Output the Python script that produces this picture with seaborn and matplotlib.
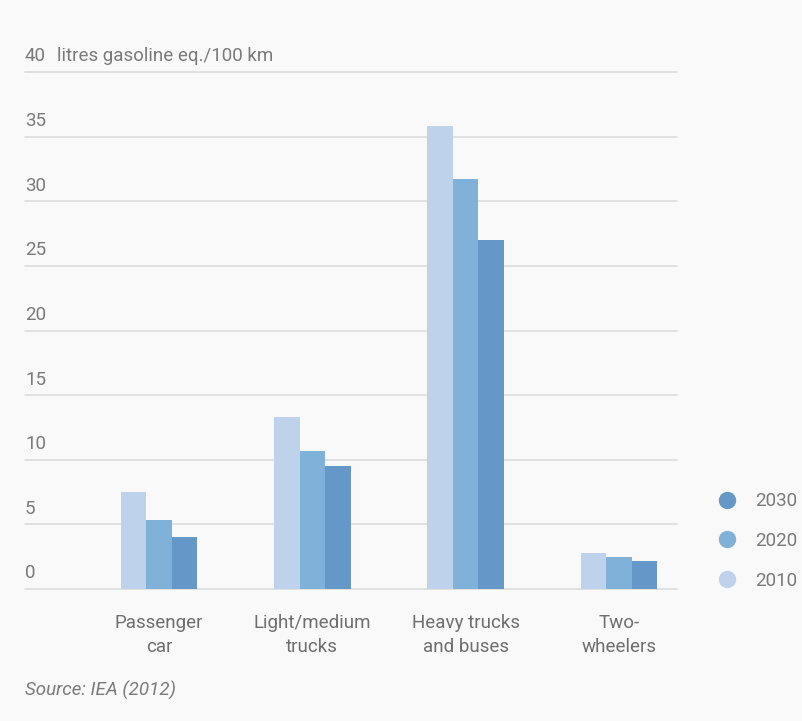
import matplotlib
matplotlib.use("Agg")
import matplotlib.pyplot as plt
from matplotlib.lines import Line2D
import seaborn as sns
import pandas as pd

categories = ["Passenger\ncar", "Light/medium\ntrucks", "Heavy trucks\nand buses", "Two-\nwheelers"]
years = ["2010", "2020", "2030"]
values_2010 = [7.5, 13.3, 35.8, 2.8]
values_2020 = [5.3, 10.7, 31.7, 2.5]
values_2030 = [4.0, 9.5, 27.0, 2.2]
y_ticks = [0, 5, 10, 15, 20, 25, 30, 35, 40]
unit_label = "litres gasoline eq./100 km"
source_note = "Source: IEA (2012)"

colors = ["#bed2ec", "#80b2d9", "#6597c9"]

rows = []
for yr, vals in zip(years, [values_2010, values_2020, values_2030]):
    for cat, v in zip(categories, vals):
        rows.append({"category": cat, "year": yr, "value": v})
df = pd.DataFrame(rows)

sns.set_style("white")
plt.rcParams["font.family"] = ["Roboto", "DejaVu Sans"]

bg = "#f9f9f9"
text_col = "#7a7a7a"
fig = plt.figure(figsize=(8.03, 7.21), dpi=100, facecolor=bg)
W, H = 803, 721
ax = fig.add_axes([25 / W, (H - 589) / H, (677 - 25) / W, (589 - 72) / H])
ax.set_facecolor(bg)

sns.barplot(data=df, x="category", y="value", hue="year", hue_order=years,
            palette=colors, width=0.5, saturation=1, ax=ax, legend=False,
            linewidth=0, zorder=3)

ax.set_ylim(0, 40)
ax.set_xlim(-0.874, 3.379)
for s in ax.spines.values():
    s.set_visible(False)
ax.set_yticks(y_ticks)
ax.set_yticklabels([])
ax.tick_params(axis="both", length=0)
for t in y_ticks:
    ax.axhline(t, color="#dddddd", lw=1.2, zorder=1, clip_on=False)
    ax.text(0.0, t + 1.2, str(t), transform=ax.get_yaxis_transform(),
            ha="left", va="center", fontsize=13.5, color=text_col)
ax.text(0.049, 40 + 1.2, unit_label, transform=ax.get_yaxis_transform(),
        ha="left", va="center", fontsize=13.5, color=text_col)

ax.set_xlabel("")
ax.set_ylabel("")
ax.set_xticks(range(len(categories)))
ax.set_xticklabels(categories, fontsize=13.5, color="#6e6e6e", linespacing=1.45)
ax.tick_params(axis="x", pad=18)

handles = [Line2D([0], [0], marker="o", linestyle="", markersize=11.5,
                  markerfacecolor=c, markeredgecolor=c) for c in colors[::-1]]
leg = fig.legend(handles, years[::-1], loc="center left",
                 bbox_to_anchor=(718 / W, 1 - 541 / H), frameon=False,
                 fontsize=13.5, labelspacing=1.15, handletextpad=1.0,
                 handlelength=1.0, borderaxespad=0, borderpad=0)
for t in leg.get_texts():
    t.set_color(text_col)

fig.text(25 / W, 1 - 690 / H, source_note, fontsize=13.5, style="italic",
         color="#7a7a7a", ha="left", va="center")

fig.savefig("out.png", dpi=100, facecolor=bg)
